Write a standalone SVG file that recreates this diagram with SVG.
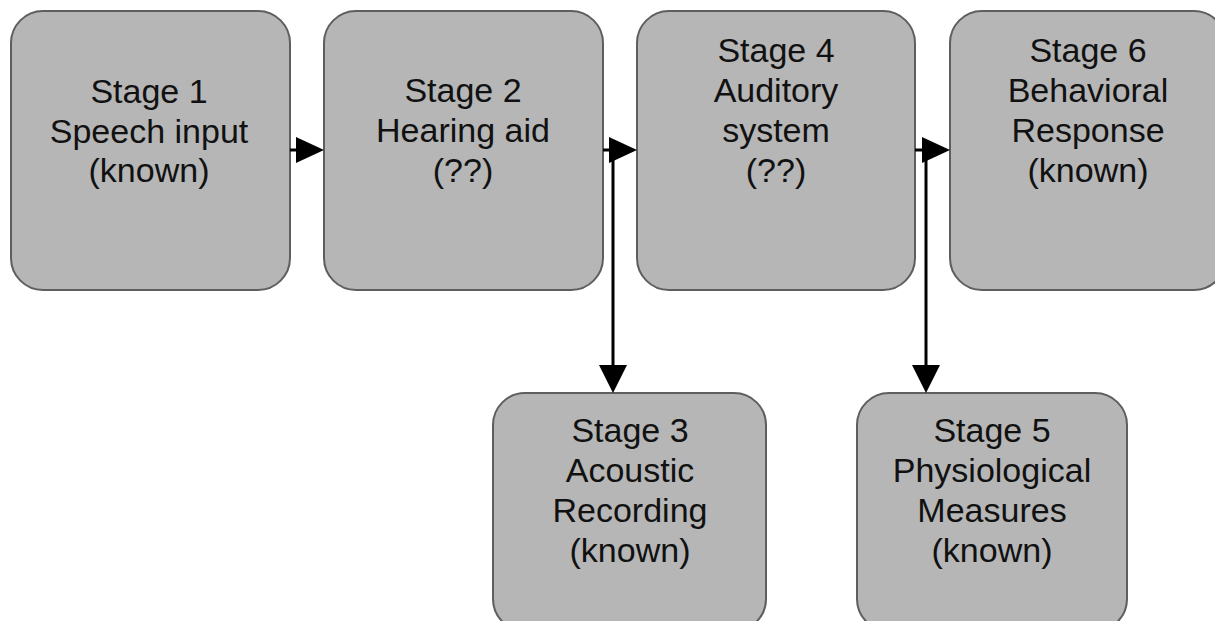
<svg xmlns="http://www.w3.org/2000/svg" width="1215" height="621" viewBox="0 0 1215 621">
  <style>
    .box { fill: #b6b6b6; stroke: #5e5e5e; stroke-width: 2; }
    .lbl { font-family: "Liberation Sans", Arial, sans-serif; font-size: 34px; fill: #111; text-anchor: middle; }
    .conn { stroke: #000; stroke-width: 3; fill: none; }
    .head { fill: #000; }
  </style>
  <rect width="1215" height="621" fill="#fff"/>
  <g id="stage1">
    <rect class="box" x="11" y="11" width="279" height="279" rx="32" ry="32"/>
    <text class="lbl" x="149" y="103">Stage 1</text>
    <text class="lbl" x="149" y="143">Speech input</text>
    <text class="lbl" x="149" y="182">(known)</text>
  </g>
  <g id="stage2">
    <rect class="box" x="324" y="11" width="279" height="279" rx="32" ry="32"/>
    <text class="lbl" x="463" y="102">Stage 2</text>
    <text class="lbl" x="463" y="142">Hearing aid</text>
    <text class="lbl" x="463" y="182">(??)</text>
  </g>
  <g id="stage4">
    <rect class="box" x="637" y="11" width="278" height="279" rx="32" ry="32"/>
    <text class="lbl" x="776" y="62">Stage 4</text>
    <text class="lbl" x="776" y="102">Auditory</text>
    <text class="lbl" x="776" y="142">system</text>
    <text class="lbl" x="776" y="182">(??)</text>
  </g>
  <g id="stage6">
    <rect class="box" x="950" y="11" width="276" height="279" rx="32" ry="32"/>
    <text class="lbl" x="1088" y="62">Stage 6</text>
    <text class="lbl" x="1088" y="102">Behavioral</text>
    <text class="lbl" x="1088" y="142">Response</text>
    <text class="lbl" x="1088" y="182">(known)</text>
  </g>
  <g id="stage3">
    <rect class="box" x="493" y="393" width="273" height="238" rx="32" ry="32"/>
    <text class="lbl" x="630" y="442">Stage 3</text>
    <text class="lbl" x="630" y="482">Acoustic</text>
    <text class="lbl" x="630" y="522">Recording</text>
    <text class="lbl" x="630" y="562">(known)</text>
  </g>
  <g id="stage5">
    <rect class="box" x="857" y="393" width="270" height="238" rx="32" ry="32"/>
    <text class="lbl" x="992" y="442">Stage 5</text>
    <text class="lbl" x="992" y="482">Physiological</text>
    <text class="lbl" x="992" y="522">Measures</text>
    <text class="lbl" x="992" y="562">(known)</text>
  </g>
  <g id="connectors">
    <line class="conn" x1="290" y1="150" x2="297" y2="150"/>
    <polygon class="head" points="296,137 324,150 296,163"/>
    <line class="conn" x1="603" y1="150" x2="611" y2="150"/>
    <polygon class="head" points="609,137 637,150 609,163"/>
    <line class="conn" x1="613" y1="150" x2="613" y2="367"/>
    <polygon class="head" points="599,365 627,365 613,393"/>
    <line class="conn" x1="915" y1="150" x2="923" y2="150"/>
    <polygon class="head" points="922,137 950,150 922,163"/>
    <line class="conn" x1="926" y1="150" x2="926" y2="367"/>
    <polygon class="head" points="912,365 940,365 926,393"/>
  </g>
</svg>
